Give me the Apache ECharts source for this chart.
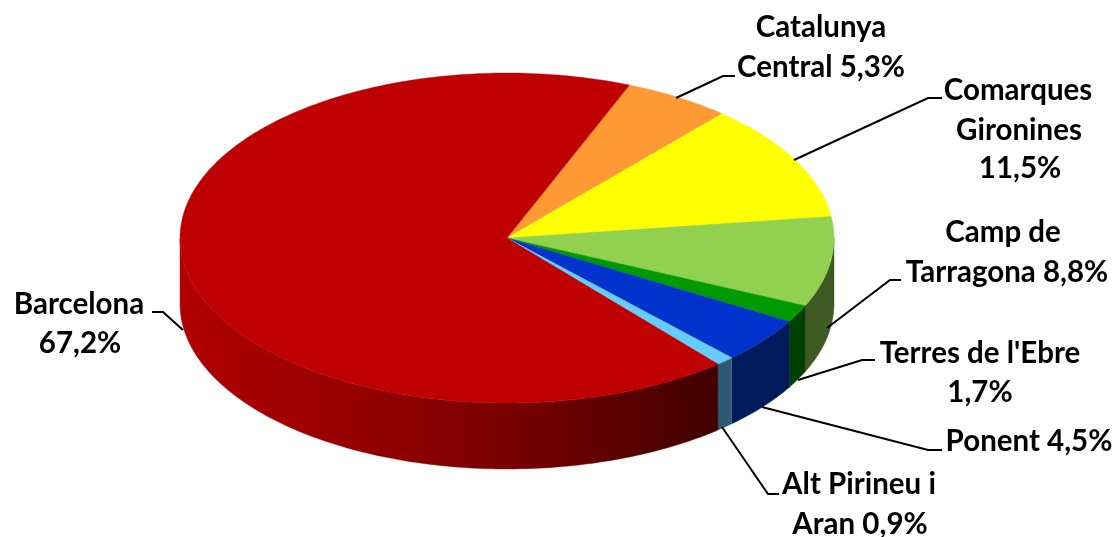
<!DOCTYPE html>
<html><head><meta charset="utf-8">
<style>html,body{margin:0;padding:0;background:#fff}#c{width:1112px;height:537px}</style>
<script src="https://cdn.jsdelivr.net/npm/echarts@6/dist/echarts.min.js"></script>
</head><body><div id="c"></div>
<script>
const categories = ['Catalunya Central','Comarques Gironines','Camp de Tarragona',"Terres de l'Ebre",'Ponent','Alt Pirineu i Aran','Barcelona'];
const values = [5.3,11.5,8.8,1.7,4.5,0.9,67.2];
const labelLines = [
  ['Catalunya','Central 5,3%'],
  ['Comarques','Gironines','11,5%'],
  ['Camp de','Tarragona 8,8%'],
  ["Terres de l'Ebre",'1,7%'],
  ['Ponent 4,5%'],
  ['Alt Pirineu i','Aran 0,9%'],
  ['Barcelona','67,2%']
];
const topColors = ['#ff9933','#ffff00','#92d050','#009900','#0033cc','#66ccff','#bf0000'];
const wallColors = ['#a8661f','#a8a800','#3f5a22','#004000','#001a5c','#2f5a72',null];
const labelAnchors = [
  [[821,27],[821,67]],
  [[1018,90],[1019,130],[1020,168]],
  [[1003,232],[1007,272]],
  [[980,353],[980,392]],
  [[1029,441]],
  [[859,484],[860,524]],
  [[79,304],[80,343]]
];
const leaders = [
  [[676,98],[723,76],[735,76]],
  [[794,160],[928,98],[942,98]],
  [[827,328],[890,280],[901,280]],
  [[798,380],[862,360],[875,360]],
  [[762,407],[928,450],[942,450]],
  [[722,427],[768,494],[779,494]],
  [[183,330],[163,312],[152,312]]
];
const CX=507, CY=238, RX=327, RY=165, DEPTH=66, START=22;
const FONT='bold 29.5px Lato, "Open Sans", sans-serif';
const total = values.reduce((a,b)=>a+b,0);
const pt=(deg,dy)=>{const r=deg*Math.PI/180;return [CX+RX*Math.sin(r),CY-RY*Math.cos(r)+(dy||0)];};
const arc=(a,b,dy)=>{const n=Math.max(2,Math.ceil(Math.abs(b-a)));const o=[];for(let i=0;i<=n;i++)o.push(pt(a+(b-a)*i/n,dy));return o;};
const barcelonaWall=new echarts.graphic.LinearGradient(CX-RX,0,CX+RX*0.65,0,[
  {offset:0,color:'#b00000'},{offset:0.25,color:'#9c0000'},{offset:0.6,color:'#7a0000'},{offset:1,color:'#400000'}],true);

function renderItem(params,api){
  const i=params.dataIndex;
  let before=0; for(let k=0;k<i;k++) before+=values[k];
  const a=START+before/total*360, b=a+api.value(0)/total*360;
  const children=[];
  const wa=Math.max(a,90), wb=Math.min(b,270);
  if(wb>wa){
    const fill=wallColors[i]||barcelonaWall;
    children.push({type:'polygon',shape:{points:arc(wa,wb,0).concat(arc(wb,wa,DEPTH))},
      style:{fill:fill,stroke:fill,lineWidth:0.4}});
  }
  children.push({type:'polygon',shape:{points:[[CX,CY]].concat(arc(a,b,0))},
    style:{fill:topColors[i],stroke:topColors[i],lineWidth:0.4}});
  children.push({type:'polyline',shape:{points:leaders[i]},style:{fill:null,stroke:'#000',lineWidth:2}});
  labelLines[i].forEach((t,j)=>{
    children.push({type:'text',style:{text:t,x:labelAnchors[i][j][0],y:labelAnchors[i][j][1],
      align:'center',verticalAlign:'middle',fill:'#000',font:FONT}});
  });
  return {type:'group',children};
}
const chart=echarts.init(document.getElementById('c'),null,{renderer:'canvas'});
chart.setOption({
  animation:false,
  backgroundColor:'#fff',
  series:[{type:'custom',coordinateSystem:'none',silent:true,renderItem,
    data:values.map((v,i)=>({name:categories[i],value:[v]}))}]
});
</script></body></html>
